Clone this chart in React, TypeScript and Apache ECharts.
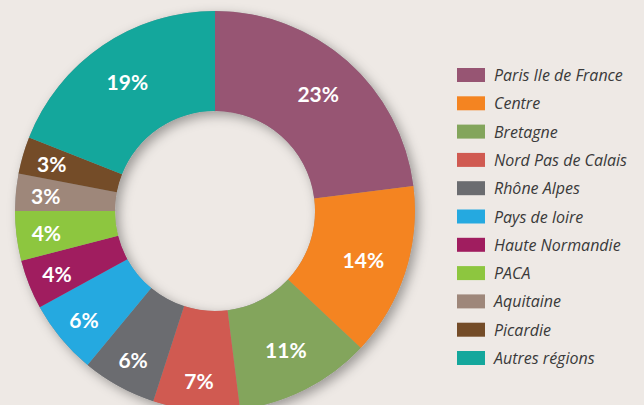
import React, { useEffect, useRef } from "react";
import * as echarts from "echarts";

const regions = [
  "Paris Ile de France",
  "Centre",
  "Bretagne",
  "Nord Pas de Calais",
  "Rhône Alpes",
  "Pays de loire",
  "Haute Normandie",
  "PACA",
  "Aquitaine",
  "Picardie",
  "Autres régions",
];
const shares = [23, 14, 11, 7, 6, 6, 4, 4, 3, 3, 19];
const colors = [
  "#975573",
  "#F48421",
  "#83A55C",
  "#D05A51",
  "#6B6C70",
  "#25A9E0",
  "#A01D5F",
  "#8DC63F",
  "#9E877A",
  "#744C28",
  "#14A79C",
];

const CX = 215;
const CY = 211;

export default function App() {
  const ref = useRef<HTMLDivElement>(null);
  useEffect(() => {
    if (!ref.current) return;
    const chart = echarts.init(ref.current, null, { renderer: "svg" });
    chart.setOption({
      animation: false,
      backgroundColor: "#EEE9E5",
      color: colors,
      legend: {
        orient: "vertical",
        left: 452,
        top: 62,
        itemWidth: 28,
        itemHeight: 14,
        itemGap: 12.3,
        icon: "rect",
        data: regions,
        selectedMode: false,
        textStyle: {
          fontFamily: "Open Sans",
          fontStyle: "italic",
          fontSize: 16,
          color: "#3a3a3a",
          padding: [0, 0, 0, 4],
        },
      },
      series: [
        {
          type: "pie",
          silent: true,
          center: [CX, CY],
          radius: [100, 200],
          label: { show: false },
          labelLine: { show: false },
          itemStyle: {
            color: "#999",
            shadowColor: "rgba(0,0,0,0.35)",
            shadowBlur: 12,
            shadowOffsetX: 4,
            shadowOffsetY: 4,
          },
          data: [{ name: "_shadow", value: 1 }],
        },
        {
          type: "pie",
          silent: true,
          center: [CX, CY],
          radius: [100, 200],
          startAngle: 90,
          clockwise: true,
          avoidLabelOverlap: false,
          label: {
            show: true,
            position: "inside",
            formatter: "{c}%",
            color: "#ffffff",
            fontFamily: "Lato",
            fontWeight: "bold",
            fontSize: 21,
          },
          labelLayout: (params: any) => {
            const r = params.labelRect;
            const lx = r.x + r.width / 2;
            const ly = r.y + r.height / 2;
            const vx = lx - CX;
            const vy = ly - CY;
            const d = Math.sqrt(vx * vx + vy * vy) || 1;
            const v = shares[params.dataIndex];
            const target = v >= 10 ? 156 : 170;
            return {
              dx: (vx / d) * (target - d),
              dy: (vy / d) * (target - d),
            };
          },
          labelLine: { show: false },
          data: regions.map((name, i) => ({
            name,
            value: shares[i],
            itemStyle: { color: colors[i] },
          })),
        },
      ],
    });
    return () => chart.dispose();
  }, []);
  return (
    <div
      ref={ref}
      style={{ position: "absolute", left: 0, top: 0, width: 644, height: 405 }}
    />
  );
}
